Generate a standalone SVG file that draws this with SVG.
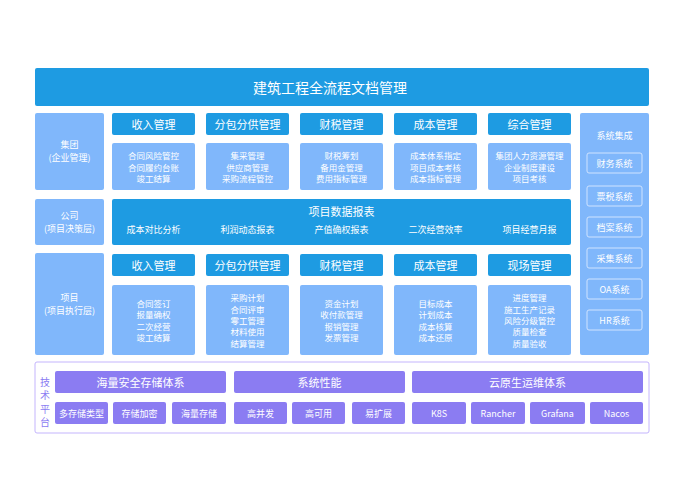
<svg xmlns="http://www.w3.org/2000/svg" width="684" height="500" viewBox="0 0 684 500">
<style>
text{font-family:"Noto Sans CJK SC","Noto Sans",sans-serif;fill:#fff;text-anchor:middle;dominant-baseline:central}
.d{fill:#1e9be2}.l{fill:#80b7fb}.p{fill:#8b7cf2}
.h{font-size:11px}.s{font-size:8.5px}.m{font-size:9px}.t{font-size:14px}.v{font-size:10px;fill:#8b7cf2}
.btn{fill:none;stroke:#cfe3ff;stroke-width:1}
</style>
<rect width="684" height="500" fill="#fff"/>
<g id="title"><rect class="d" x="35" y="68" width="614" height="38" rx="2"/><text class="t" x="330" y="87">建筑工程全流程文档管理</text></g>
<g id="group"><rect class="l" x="35" y="113" width="69" height="77" rx="2"/><text class="m" x="69.5" y="144">集团</text><text class="m" x="69.5" y="157">(企业管理)</text></g>
<g id="company"><rect class="l" x="35" y="199" width="69" height="46" rx="2"/><text class="m" x="69.5" y="215">公司</text><text class="m" x="69.5" y="228">(项目决策层)</text></g>
<g id="project"><rect class="l" x="35" y="253" width="69" height="102" rx="2"/><text class="m" x="69.5" y="297">项目</text><text class="m" x="69.5" y="310">(项目执行层)</text></g>

<g id="g-cols">
<rect class="d" x="112" y="113" width="83" height="22" rx="2"/><text class="h" x="153.5" y="124">收入管理</text>
<rect class="l" x="112" y="143" width="83" height="47" rx="2"/><text class="s" x="153.5" y="155">合同风险管控</text><text class="s" x="153.5" y="167">合同履约台账</text><text class="s" x="153.5" y="178">竣工结算</text>
<rect class="d" x="206" y="113" width="83" height="22" rx="2"/><text class="h" x="247.5" y="124">分包分供管理</text>
<rect class="l" x="206" y="143" width="83" height="47" rx="2"/><text class="s" x="247.5" y="155">集采管理</text><text class="s" x="247.5" y="167">供应商管理</text><text class="s" x="247.5" y="178">采购流程管控</text>
<rect class="d" x="300" y="113" width="83" height="22" rx="2"/><text class="h" x="341.5" y="124">财税管理</text>
<rect class="l" x="300" y="143" width="83" height="47" rx="2"/><text class="s" x="341.5" y="155">财税筹划</text><text class="s" x="341.5" y="167">备用金管理</text><text class="s" x="341.5" y="178">费用指标管理</text>
<rect class="d" x="394" y="113" width="83" height="22" rx="2"/><text class="h" x="435.5" y="124">成本管理</text>
<rect class="l" x="394" y="143" width="83" height="47" rx="2"/><text class="s" x="435.5" y="155">成本体系指定</text><text class="s" x="435.5" y="167">项目成本考核</text><text class="s" x="435.5" y="178">成本指标管理</text>
<rect class="d" x="488" y="113" width="83" height="22" rx="2"/><text class="h" x="529.5" y="124">综合管理</text>
<rect class="l" x="488" y="143" width="83" height="47" rx="2"/><text class="s" x="529.5" y="155">集团人力资源管理</text><text class="s" x="529.5" y="167">企业制度建设</text><text class="s" x="529.5" y="178">项目考核</text>
</g>

<g id="report"><rect class="d" x="112" y="199" width="459" height="46" rx="2"/>
<text class="h" x="341.5" y="211">项目数据报表</text>
<text class="m" x="153.5" y="229">成本对比分析</text><text class="m" x="247.5" y="229">利润动态报表</text><text class="m" x="341.5" y="229">产值确权报表</text><text class="m" x="435.5" y="229">二次经营效率</text><text class="m" x="529.5" y="229">项目经营月报</text>
</g>

<g id="p-cols">
<rect class="d" x="112" y="254" width="83" height="22" rx="2"/><text class="h" x="153.5" y="265">收入管理</text>
<rect class="l" x="112" y="285" width="83" height="70" rx="2"/><text class="s" x="153.5" y="303">合同签订</text><text class="s" x="153.5" y="314">报量确权</text><text class="s" x="153.5" y="326">二次经营</text><text class="s" x="153.5" y="337">竣工结算</text>
<rect class="d" x="206" y="254" width="83" height="22" rx="2"/><text class="h" x="247.5" y="265">分包分供管理</text>
<rect class="l" x="206" y="285" width="83" height="70" rx="2"/><text class="s" x="247.5" y="297">采购计划</text><text class="s" x="247.5" y="309">合同评审</text><text class="s" x="247.5" y="320">零工管理</text><text class="s" x="247.5" y="331">材料使用</text><text class="s" x="247.5" y="343">结算管理</text>
<rect class="d" x="300" y="254" width="83" height="22" rx="2"/><text class="h" x="341.5" y="265">财税管理</text>
<rect class="l" x="300" y="285" width="83" height="70" rx="2"/><text class="s" x="341.5" y="303">资金计划</text><text class="s" x="341.5" y="314">收付款管理</text><text class="s" x="341.5" y="326">报销管理</text><text class="s" x="341.5" y="337">发票管理</text>
<rect class="d" x="394" y="254" width="83" height="22" rx="2"/><text class="h" x="435.5" y="265">成本管理</text>
<rect class="l" x="394" y="285" width="83" height="70" rx="2"/><text class="s" x="435.5" y="303">目标成本</text><text class="s" x="435.5" y="314">计划成本</text><text class="s" x="435.5" y="326">成本核算</text><text class="s" x="435.5" y="337">成本还原</text>
<rect class="d" x="488" y="254" width="83" height="22" rx="2"/><text class="h" x="529.5" y="265">现场管理</text>
<rect class="l" x="488" y="285" width="83" height="70" rx="2"/><text class="s" x="529.5" y="297">进度管理</text><text class="s" x="529.5" y="309">施工生产记录</text><text class="s" x="529.5" y="320">风险分级管控</text><text class="s" x="529.5" y="331">质量检查</text><text class="s" x="529.5" y="343">质量验收</text>
</g>

<g id="systems"><rect class="l" x="580" y="113" width="69" height="242" rx="2"/>
<text class="m" x="614.5" y="135">系统集成</text>
<rect class="btn" x="587" y="153" width="55" height="20" rx="2"/><text class="m" x="614.5" y="163">财务系统</text>
<rect class="btn" x="587" y="186" width="55" height="20" rx="2"/><text class="m" x="614.5" y="196">票税系统</text>
<rect class="btn" x="587" y="217" width="55" height="20" rx="2"/><text class="m" x="614.5" y="227">档案系统</text>
<rect class="btn" x="587" y="248" width="55" height="20" rx="2"/><text class="m" x="614.5" y="258">采集系统</text>
<rect class="btn" x="587" y="279" width="55" height="20" rx="2"/><text class="m" x="614.5" y="289">OA系统</text>
<rect class="btn" x="587" y="310" width="55" height="20" rx="2"/><text class="m" x="614.5" y="320">HR系统</text>
</g>

<g id="tech">
<rect x="35" y="362" width="614" height="71" rx="2" fill="#fff" stroke="#c4b5fd" stroke-width="1"/>
<text class="v" x="45" y="381">技</text><text class="v" x="45" y="394.5">术</text><text class="v" x="45" y="408">平</text><text class="v" x="45" y="421.5">台</text>
<rect class="p" x="55" y="371" width="171" height="22" rx="2"/><text class="h" x="140.5" y="382">海量安全存储体系</text>
<rect class="p" x="234" y="371" width="171" height="22" rx="2"/><text class="h" x="319.5" y="382">系统性能</text>
<rect class="p" x="412" y="371" width="231" height="22" rx="2"/><text class="h" x="527.5" y="382">云原生运维体系</text>
<rect class="p" x="55" y="402" width="53" height="22" rx="2"/><text class="m" x="81.5" y="413">多存储类型</text>
<rect class="p" x="113" y="402" width="53" height="22" rx="2"/><text class="m" x="139.5" y="413">存储加密</text>
<rect class="p" x="172" y="402" width="54" height="22" rx="2"/><text class="m" x="199" y="413">海量存储</text>
<rect class="p" x="234" y="402" width="53" height="22" rx="2"/><text class="m" x="260.5" y="413">高并发</text>
<rect class="p" x="292" y="402" width="53" height="22" rx="2"/><text class="m" x="318.5" y="413">高可用</text>
<rect class="p" x="352" y="402" width="53" height="22" rx="2"/><text class="m" x="378.5" y="413">易扩展</text>
<rect class="p" x="412" y="402" width="54" height="22" rx="2"/><text class="m" x="439" y="413">K8S</text>
<rect class="p" x="471" y="402" width="54" height="22" rx="2"/><text class="m" x="498" y="413">Rancher</text>
<rect class="p" x="530" y="402" width="55" height="22" rx="2"/><text class="m" x="557.5" y="413">Grafana</text>
<rect class="p" x="590" y="402" width="53" height="22" rx="2"/><text class="m" x="616.5" y="413">Nacos</text>
</g>
</svg>
